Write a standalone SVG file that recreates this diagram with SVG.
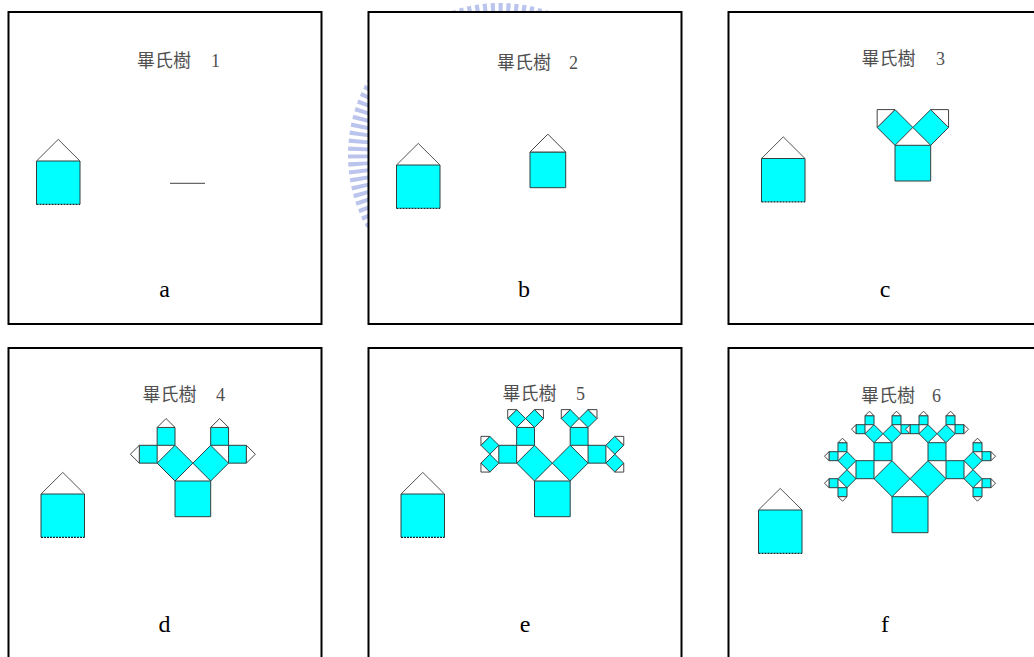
<svg xmlns="http://www.w3.org/2000/svg" xmlns:xlink="http://www.w3.org/1999/xlink" width="1034" height="657" viewBox="0 0 1034 657">
  <style>
    .panel { fill: #ffffff; stroke: #000000; stroke-width: 2; }
    .sq { fill: #00ffff; stroke: #2f3f3f; stroke-width: 1; vector-effect: non-scaling-stroke; }
    .tri { fill: #ffffff; stroke: #444444; stroke-width: 1; vector-effect: non-scaling-stroke; }
    .br { fill: none; stroke: #444444; stroke-width: 1; vector-effect: non-scaling-stroke; }
    .hfill { fill: #00ffff; stroke: none; }
    .hedge { fill: none; stroke: #2f3f3f; stroke-width: 1; }
    .hroof { fill: none; stroke: #555555; stroke-width: 1; }
    .hbase { fill: none; stroke: #222222; stroke-width: 1.2; stroke-dasharray: 2 1; }
    .ttl { font-family: "Liberation Serif", "Noto Sans CJK TC", serif; font-size: 18px; fill: #505050; }
    .lbl { font-family: "Liberation Serif", serif; font-size: 24px; fill: #000000; text-anchor: middle; }
    .mark { fill: none; stroke: #8494dc; stroke-width: 20; stroke-dasharray: 4 3.5; opacity: 0.55; }
  </style>
  <defs>
    <!-- Pythagoras tree in unit coordinates: base square sits on (0,0)-(1,0), grows upward -->
    <g id="lv1"><line x1="0" y1="0" x2="1" y2="0" class="br"/></g>
    <g id="lv2">
      <rect x="0" y="-1" width="1" height="1" class="sq"/>
      <polygon points="0,-1 1,-1 0.5,-1.5" class="tri"/>
    </g>
    <g id="lv3">
      <rect x="0" y="-1" width="1" height="1" class="sq"/>
      <use xlink:href="#lv2" transform="translate(0,-1) rotate(-45) scale(0.707107)"/>
      <use xlink:href="#lv2" transform="translate(0.5,-1.5) rotate(45) scale(0.707107)"/>
    </g>
    <g id="lv4">
      <rect x="0" y="-1" width="1" height="1" class="sq"/>
      <use xlink:href="#lv3" transform="translate(0,-1) rotate(-45) scale(0.707107)"/>
      <use xlink:href="#lv3" transform="translate(0.5,-1.5) rotate(45) scale(0.707107)"/>
    </g>
    <g id="lv5">
      <rect x="0" y="-1" width="1" height="1" class="sq"/>
      <use xlink:href="#lv4" transform="translate(0,-1) rotate(-45) scale(0.707107)"/>
      <use xlink:href="#lv4" transform="translate(0.5,-1.5) rotate(45) scale(0.707107)"/>
    </g>
    <g id="lv6">
      <rect x="0" y="-1" width="1" height="1" class="sq"/>
      <use xlink:href="#lv5" transform="translate(0,-1) rotate(-45) scale(0.707107)"/>
      <use xlink:href="#lv5" transform="translate(0.5,-1.5) rotate(45) scale(0.707107)"/>
    </g>
    <!-- the small reference house drawn at the left of every panel -->
    <g id="house">
      <rect x="0" y="0" width="43.5" height="43.3" class="hfill"/>
      <polyline points="0,43.3 0,0 43.5,0 43.5,43.3" class="hedge"/>
      <polyline points="0,0 21.75,-21.6 43.5,0" class="hroof"/>
      <line x1="0" y1="43.3" x2="43.5" y2="43.3" class="hbase"/>
    </g>
  </defs>

  <rect x="0" y="0" width="1034" height="657" fill="#ffffff"/>

  <!-- faint ring emblem behind the second panel -->
  <circle cx="500" cy="155" r="142" class="mark"/>

  <g id="panel-a">
    <rect x="8.5" y="12" width="313" height="312" class="panel"/>
    <text x="137" y="67" class="ttl">畢氏樹<tspan x="211">1</tspan></text>
    <use xlink:href="#house" transform="translate(36.5,161)"/>
    <use xlink:href="#lv1" transform="translate(170,183.3) scale(35)"/>
    <text x="164.5" y="296.5" class="lbl">a</text>
  </g>

  <g id="panel-b">
    <rect x="368.5" y="12" width="313" height="312" class="panel"/>
    <text x="497" y="69" class="ttl">畢氏樹<tspan x="569">2</tspan></text>
    <use xlink:href="#house" transform="translate(396.5,165)"/>
    <use xlink:href="#lv2" transform="translate(530,187.7) scale(35.7)"/>
    <text x="524" y="296.5" class="lbl">b</text>
  </g>

  <g id="panel-c">
    <rect x="728.5" y="12" width="320" height="312" class="panel"/>
    <text x="861.5" y="65" class="ttl">畢氏樹<tspan x="936">3</tspan></text>
    <use xlink:href="#house" transform="translate(761.5,158.5)"/>
    <use xlink:href="#lv3" transform="translate(895,181) scale(35.7)"/>
    <text x="885" y="296.5" class="lbl">c</text>
  </g>

  <g id="panel-d">
    <rect x="8.5" y="348" width="313" height="320" class="panel"/>
    <text x="142.5" y="401" class="ttl">畢氏樹<tspan x="216">4</tspan></text>
    <use xlink:href="#house" transform="translate(41,494)"/>
    <use xlink:href="#lv4" transform="translate(175,516.7) scale(35.7)"/>
    <text x="164.5" y="632" class="lbl">d</text>
  </g>

  <g id="panel-e">
    <rect x="368.5" y="348" width="313" height="320" class="panel"/>
    <text x="502.5" y="399.5" class="ttl">畢氏樹<tspan x="576">5</tspan></text>
    <use xlink:href="#house" transform="translate(401,494)"/>
    <use xlink:href="#lv5" transform="translate(534.5,516.7) scale(35.7)"/>
    <text x="525" y="632" class="lbl">e</text>
  </g>

  <g id="panel-f">
    <rect x="728.5" y="348" width="320" height="320" class="panel"/>
    <text x="861" y="402" class="ttl">畢氏樹<tspan x="932">6</tspan></text>
    <use xlink:href="#house" transform="translate(758.5,510)"/>
    <use xlink:href="#lv6" transform="translate(892,532.7) scale(36)"/>
    <text x="885" y="632" class="lbl">f</text>
  </g>
</svg>
